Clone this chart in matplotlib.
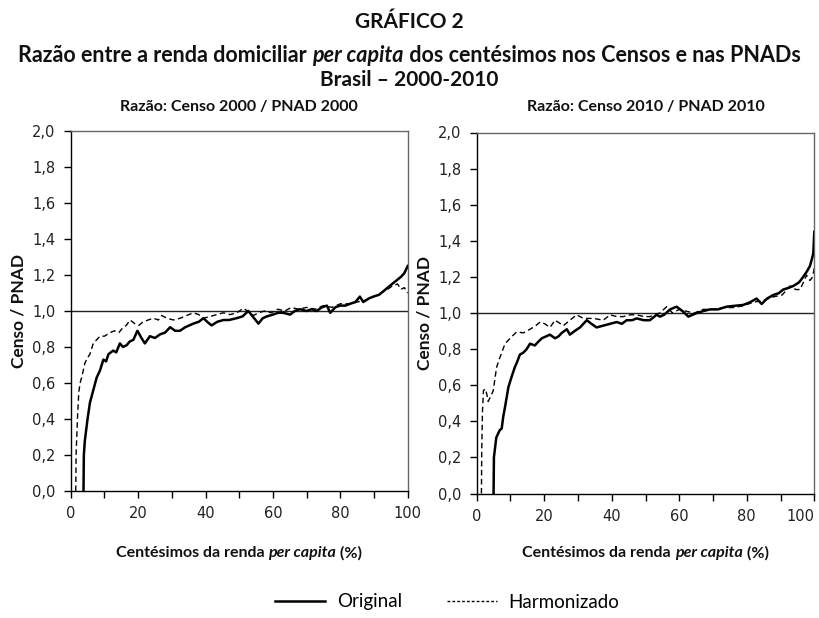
import matplotlib
matplotlib.use("Agg")
import matplotlib.pyplot as plt
from matplotlib.lines import Line2D
from matplotlib.ticker import MultipleLocator, FuncFormatter

# ---------------- data ----------------
lo_p = [3.8, 3.9, 4.2, 5.0, 5.7, 6.7, 7.7, 8.7, 9.7, 10.5, 11.2, 12.6, 13.5, 14.6, 15.5, 16.6, 17.5, 18.6, 19.8, 21.0, 22.0, 23.5, 25.0, 26.5, 28.0, 29.5, 31.0, 32.4, 34.0, 36.4, 38.0, 39.4, 40.5, 41.8, 43.5, 45.3, 47.0, 49.2, 51.0, 52.7, 54.0, 55.7, 57.0, 58.2, 60.0, 61.5, 63.1, 65.1, 66.5, 68.0, 70.0, 71.5, 73.0, 74.5, 76.0, 77.0, 78.5, 79.9, 81.5, 82.9, 84.5, 85.8, 86.8, 88.5, 89.8, 91.5, 92.8, 94.7, 96.7, 98.0, 99.0, 100]
lo_v = [0.0, 0.2, 0.28, 0.40, 0.49, 0.56, 0.63, 0.67, 0.73, 0.72, 0.76, 0.78, 0.77, 0.82, 0.80, 0.81, 0.83, 0.84, 0.89, 0.85, 0.82, 0.86, 0.85, 0.87, 0.88, 0.91, 0.89, 0.89, 0.91, 0.93, 0.94, 0.96, 0.94, 0.92, 0.94, 0.95, 0.95, 0.96, 0.97, 1.00, 0.97, 0.93, 0.96, 0.97, 0.98, 0.99, 0.99, 0.98, 1.00, 1.01, 1.00, 1.01, 1.00, 1.02, 1.03, 0.99, 1.02, 1.03, 1.03, 1.04, 1.05, 1.08, 1.05, 1.07, 1.08, 1.09, 1.11, 1.14, 1.17, 1.19, 1.21, 1.25]

lh_p = [1.5, 1.6, 2.0, 2.4, 2.8, 3.5, 4.2, 5.0, 5.7, 6.7, 7.7, 8.7, 10.0, 11.7, 13.0, 14.3, 15.6, 16.5, 17.6, 19.0, 20.2, 21.5, 23.0, 24.5, 26.0, 27.0, 28.5, 30.5, 32.5, 34.4, 36.4, 38.0, 39.4, 41.5, 43.3, 45.3, 47.3, 49.3, 51.2, 52.5, 54.2, 55.7, 57.5, 59.5, 61.5, 63.5, 65.5, 67.5, 70.0, 72.5, 75.0, 77.5, 80.0, 82.5, 85.0, 87.5, 90.0, 92.0, 94.0, 95.5, 97.0, 98.0, 99.0, 100]
lh_v = [0.0, 0.20, 0.40, 0.55, 0.60, 0.65, 0.71, 0.74, 0.76, 0.82, 0.84, 0.86, 0.86, 0.88, 0.89, 0.88, 0.91, 0.92, 0.95, 0.93, 0.92, 0.94, 0.95, 0.96, 0.95, 0.975, 0.96, 0.95, 0.96, 0.975, 0.99, 0.98, 0.96, 0.97, 0.98, 0.99, 0.98, 0.99, 1.015, 1.00, 0.975, 0.99, 1.00, 0.99, 1.01, 1.00, 1.02, 1.01, 1.02, 1.01, 1.03, 1.02, 1.04, 1.04, 1.05, 1.06, 1.08, 1.10, 1.12, 1.14, 1.15, 1.12, 1.13, 1.10]

ro_p = [5.0, 5.1, 5.8, 6.8, 7.4, 7.9, 8.4, 9.4, 10.4, 11.3, 12.0, 12.8, 13.8, 14.8, 15.8, 17.2, 18.2, 19.3, 20.5, 21.7, 23.2, 24.2, 25.2, 26.7, 27.6, 29.0, 30.6, 32.6, 34.0, 35.5, 37.5, 39.5, 41.5, 43.0, 44.4, 46.0, 47.4, 49.5, 51.3, 53.3, 54.3, 55.5, 57.3, 59.2, 61.0, 62.7, 65.2, 67.0, 69.1, 71.5, 74.0, 76.5, 79.0, 81.0, 82.9, 84.4, 86.0, 87.9, 89.5, 90.8, 92.5, 93.8, 95.5, 96.7, 97.8, 98.7, 99.3, 99.7, 100]
ro_v = [0.0, 0.20, 0.31, 0.35, 0.36, 0.43, 0.48, 0.59, 0.65, 0.70, 0.73, 0.77, 0.78, 0.80, 0.83, 0.82, 0.84, 0.86, 0.87, 0.88, 0.86, 0.87, 0.89, 0.91, 0.88, 0.90, 0.92, 0.96, 0.94, 0.92, 0.93, 0.94, 0.95, 0.94, 0.96, 0.96, 0.97, 0.96, 0.96, 0.99, 0.98, 0.99, 1.02, 1.035, 1.01, 0.98, 1.00, 1.01, 1.02, 1.02, 1.035, 1.04, 1.045, 1.06, 1.08, 1.05, 1.08, 1.10, 1.11, 1.13, 1.14, 1.15, 1.17, 1.20, 1.23, 1.26, 1.30, 1.33, 1.45]

rh_p = [1.4, 1.5, 1.7, 2.0, 2.5, 3.0, 3.4, 4.2, 4.9, 5.9, 6.9, 7.6, 8.4, 9.9, 11.8, 13.8, 15.8, 17.5, 18.8, 20.2, 21.7, 23.2, 25.7, 27.6, 29.6, 31.6, 34.6, 37.5, 39.5, 41.5, 43.4, 45.5, 47.4, 49.5, 51.3, 54.2, 56.3, 58.0, 60.0, 62.0, 64.5, 67.0, 70.0, 73.0, 76.0, 79.0, 82.0, 85.0, 88.0, 90.5, 92.8, 94.5, 95.8, 97.0, 97.7, 98.7, 99.5, 100]
rh_v = [0.0, 0.25, 0.45, 0.57, 0.58, 0.55, 0.51, 0.54, 0.57, 0.70, 0.755, 0.79, 0.83, 0.86, 0.895, 0.89, 0.91, 0.93, 0.95, 0.94, 0.92, 0.96, 0.93, 0.96, 0.99, 0.97, 0.97, 0.96, 0.99, 0.98, 0.98, 0.99, 0.99, 0.98, 0.98, 1.00, 1.035, 1.00, 1.02, 1.01, 1.00, 1.02, 1.02, 1.03, 1.03, 1.04, 1.06, 1.07, 1.09, 1.10, 1.15, 1.13, 1.13, 1.18, 1.21, 1.18, 1.20, 1.25]

panel_titles = ["Razão: Censo 2000 / PNAD 2000", "Razão: Censo 2010 / PNAD 2010"]
series_labels = ["Original", "Harmonizado"]

# ---------------- figure ----------------
W, H = 819, 618
fig = plt.figure(figsize=(W / 100, H / 100), dpi=100)
TFONT = "Lato"
TICKFONT = "DejaVu Sans"

def ax_rect(x0, x1, ytop, ybot):
    return [x0 / W, 1 - ybot / H, (x1 - x0) / W, (ybot - ytop) / H]

axL = fig.add_axes(ax_rect(70.7, 407.7, 131, 491))
axR = fig.add_axes(ax_rect(476.7, 814.3, 132.5, 493.5))

data = [(axL, lo_p, lo_v, lh_p, lh_v), (axR, ro_p, ro_v, rh_p, rh_v)]
for i, (ax, op, ov, hp, hv) in enumerate(data):
    ax.axhline(1.0, color="#222222", lw=1.0, zorder=1)
    ax.plot(hp, hv, color="black", lw=1.0, ls=(0, (4, 2.5)), zorder=2)
    ax.plot(op, ov, color="black", lw=1.8, zorder=3)
    ax.set_xlim(0, 100)
    ax.set_ylim(0, 2.0)
    ax.xaxis.set_major_locator(MultipleLocator(10))
    ax.yaxis.set_major_locator(MultipleLocator(0.2))
    ax.xaxis.set_major_formatter(FuncFormatter(lambda v, p: f"{int(round(v))}" if int(round(v)) % 20 == 0 else ""))
    ax.yaxis.set_major_formatter(FuncFormatter(lambda v, p: f"{v:.1f}".replace(".", ",")))
    ax.tick_params(direction="out", length=5, width=1, color="black", labelsize=10.5, pad=6)
    for s in ["left", "bottom"]:
        ax.spines[s].set_linewidth(1.0)
        ax.spines[s].set_color("black")
    for s in ["top", "right"]:
        ax.spines[s].set_linewidth(1.0)
        ax.spines[s].set_color("#666666")
    ax.set_ylabel("Censo / PNAD", fontfamily=TFONT, fontweight="bold", fontsize=12.5, labelpad=4, color="#111111")

fig.canvas.draw()
for ax in (axL, axR):
    for lab in ax.get_xticklabels() + ax.get_yticklabels():
        lab.set_fontfamily(TICKFONT)
        lab.set_color("#222222")
for t in axR.xaxis.get_major_ticks():
    if abs(t.get_loc() - 100) < 1e-6:
        t.label1.set_horizontalalignment("right")

renderer = fig.canvas.get_renderer()

def mixed_text(xc, y, parts, size):
    """Draw consecutive text segments centred on xc (pixels), y in pixels from top."""
    objs = []
    for txt, style in parts:
        t = fig.text(0, 1 - y / H, txt, fontfamily=TFONT, fontweight="bold", fontstyle=style,
                     fontsize=size, va="center", ha="left", color="#111111")
        objs.append(t)
    widths = [o.get_window_extent(renderer).width for o in objs]
    total = sum(widths)
    x = xc - total / 2
    for o, w in zip(objs, widths):
        o.set_x(x / W)
        x += w

# titles
fig.text(0.5, 1 - 22 / H, "GRÁFICO 2", ha="center", va="center", fontfamily=TFONT,
         fontweight="bold", fontsize=15, color="#111111")
mixed_text(W / 2, 55, [("Razão entre a renda domiciliar ", "normal"), ("per capita", "italic"),
                       (" dos centésimos nos Censos e nas PNADs", "normal")], 15.5)
fig.text(0.5, 1 - 80 / H, "Brasil – 2000-2010", ha="center", va="center", fontfamily=TFONT,
         fontweight="bold", fontsize=15, color="#111111")

for i, ax in enumerate((axL, axR)):
    bb = ax.get_position()
    xc = (bb.x0 + bb.x1) / 2
    fig.text(xc, 1 - 107 / H, panel_titles[i], ha="center", va="center", fontfamily=TFONT,
             fontweight="bold", fontsize=11.5, color="#111111")
    mixed_text(xc * W, 553, [("Centésimos da renda ", "normal"), ("per capita", "italic"), (" (%)", "normal")], 11.5)

# legend
handles = [Line2D([], [], color="black", lw=1.8),
           Line2D([], [], color="black", lw=1.0, ls=(0, (2, 1.5)))]
leg = fig.legend(handles, series_labels, ncol=2, loc="center", bbox_to_anchor=(0.546, 1 - 602 / H),
                 frameon=False, handlelength=2.7, handletextpad=0.6, columnspacing=2.4,
                 prop={"family": TFONT, "size": 13.5})

fig.savefig("out.png", dpi=100)
